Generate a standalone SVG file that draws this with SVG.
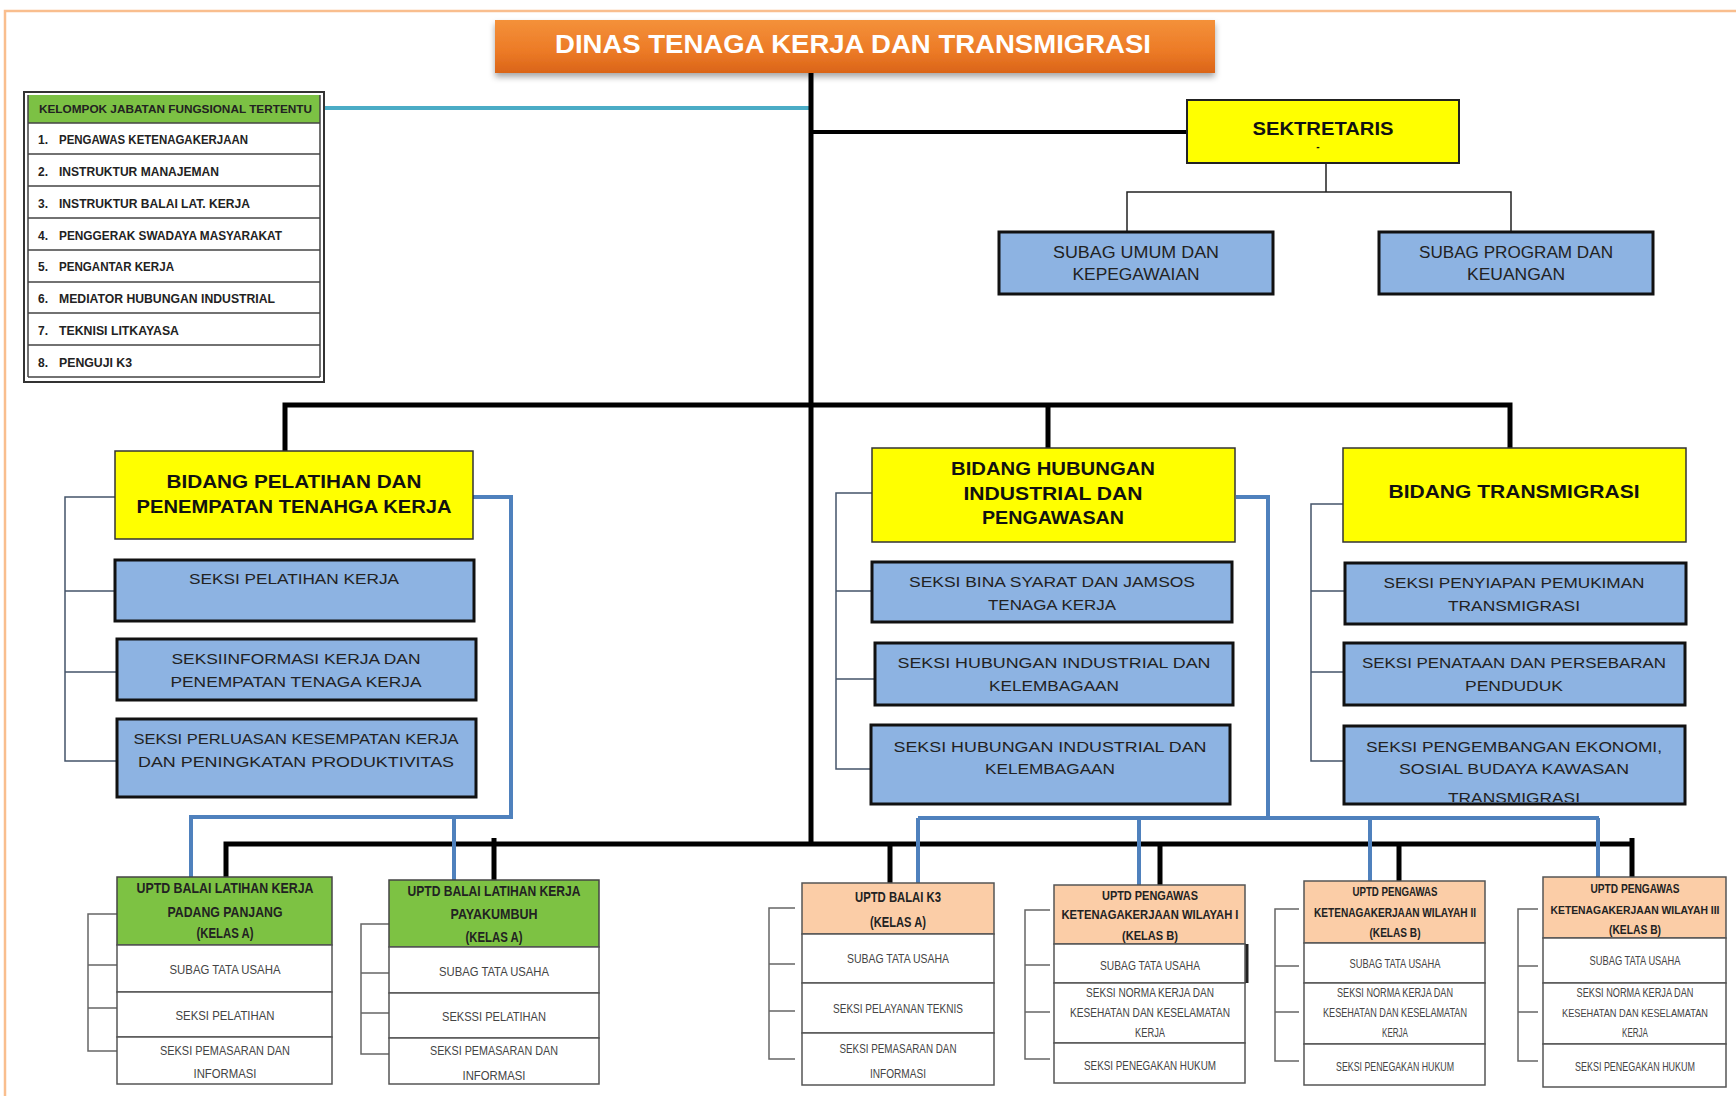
<svg xmlns="http://www.w3.org/2000/svg" width="1736" height="1096" viewBox="0 0 1736 1096">
<defs>
<linearGradient id="og" x1="0" y1="0" x2="0" y2="1">
<stop offset="0" stop-color="#F4913A"/><stop offset="0.6" stop-color="#EC7A26"/><stop offset="1" stop-color="#DA6418"/>
</linearGradient>
<filter id="sh" x="-5%" y="-20%" width="110%" height="160%"><feDropShadow dx="0" dy="4" stdDeviation="3" flood-color="#000" flood-opacity="0.35"/></filter>
<clipPath id="clipT3"><rect x="1346" y="727" width="338" height="75"/></clipPath>
</defs>
<style>
.frame{fill:none;stroke:#F9BE8E;stroke-width:2.5}
.blk{fill:none;stroke:#000;stroke-width:5}
.thin{fill:none;stroke:#222;stroke-width:1.5}
.cyan{fill:none;stroke:#4BACC6;stroke-width:4}
.blue{fill:none;stroke:#4F81BD;stroke-width:4}
.brk{fill:none;stroke:#44546A;stroke-width:1.5}
.brk2{fill:none;stroke:#666;stroke-width:1.5}
.yel{fill:#FFFF00;stroke:#333;stroke-width:1.5}
.sek{fill:#8DB3E2;stroke:#111;stroke-width:3}
.row{fill:#fff;stroke:#555;stroke-width:1.5}
.hA{fill:#7DC243;stroke:#444;stroke-width:1.5}
.hB{fill:#FBCDA7;stroke:#555;stroke-width:1.5}
text{font-family:"Liberation Sans",Arial,sans-serif}
.ttl{font-size:26px;font-weight:bold;fill:#fff}
.bd{font-size:18px;font-weight:bold;fill:#111;text-anchor:middle}
.sx{font-size:15px;fill:#222;text-anchor:middle}
.kl{font-size:12px;font-weight:bold;fill:#222}
.uh{font-size:14px;font-weight:bold;fill:#222;text-anchor:middle}
.ur{font-size:13px;fill:#444;text-anchor:middle}
</style>
<rect width="1736" height="1096" fill="#fff"/>
<path class="frame" d="M5,1096 V11 H1736"/>

<g id="connectors">
<path class="cyan" d="M324,108 H810"/>
<path class="blk" d="M811,62 V842"/>
<path class="blk" d="M811,132 H1187" style="stroke-width:4"/>
<path class="thin" d="M1326,163 V192 M1127,232 V192 H1511 V232"/>
<path class="blk" d="M285,452 V405 H1510 V448 M1048,405 V448"/>
<path class="blk" d="M226,877 V844 H1632 M1632,838 V877 M494,838 V880 M890,844 V883 M1160,844 V885 M1399,844 V881"/>
<path class="blue" d="M473,497 H511 V817 H191 V877 M454,817 V880"/>
<path class="blue" d="M1236,497 H1268 V818 M918,818 H1599 M918,818 V883 M1139,818 V885 M1370,818 V881 M1598,818 V877"/>
<path class="brk" d="M115,497 H65 V761 H117 M65,591 H115 M65,672 H117"/>
<path class="brk" d="M872,493 H836 V769 H871 M836,591 H872 M836,679 H875"/>
<path class="brk" d="M1343,504 H1311 V761 H1344 M1311,591 H1345 M1311,672 H1344"/>
<path class="brk2" d="M117,914 H88 V1051 H117 M88,965 H117 M88,1008 H117"/>
<path class="brk2" d="M389,924 H361 V1054 H389 M361,973 H389 M361,1013 H389"/>
<path class="brk2" d="M795,908 H769 V1059 H795 M769,964 H795 M769,1011 H795"/>
<path class="brk2" d="M1050,910 H1025 V1059 H1050 M1025,965 H1050 M1025,1012 H1050"/>
<path class="brk2" d="M1299,909 H1275 V1061 H1299 M1275,966 H1299 M1275,1012 H1299"/>
<path class="brk2" d="M1538,909 H1518 V1061 H1538 M1518,966 H1538 M1518,1012 H1538"/>
</g>

<g id="title">
<rect x="495" y="20" width="720" height="53" fill="url(#og)" filter="url(#sh)"/>
<text class="ttl" x="555" y="53" textLength="596" lengthAdjust="spacingAndGlyphs">DINAS TENAGA KERJA DAN TRANSMIGRASI</text>
</g>

<g id="kelompok">
<rect x="24" y="92" width="300" height="290" fill="#fff" stroke="#333" stroke-width="2"/>
<rect x="28" y="95" width="292" height="28" fill="#7CC144"/>
<path fill="none" stroke="#444" stroke-width="1.5" d="M28,123 H320 M28,154 H320 M28,186 H320 M28,218 H320 M28,250 H320 M28,282 H320 M28,313 H320 M28,345 H320 M28,377 H320 M28,95 V377 M320,95 V377"/>
<text class="kl" x="39" y="113" textLength="273" lengthAdjust="spacingAndGlyphs" style="font-size:11px">KELOMPOK JABATAN FUNGSIONAL TERTENTU</text>
<text class="kl" y="144"><tspan x="38">1.</tspan><tspan x="59" textLength="189" lengthAdjust="spacingAndGlyphs">PENGAWAS KETENAGAKERJAAN</tspan></text>
<text class="kl" y="176"><tspan x="38">2.</tspan><tspan x="59" textLength="160" lengthAdjust="spacingAndGlyphs">INSTRUKTUR MANAJEMAN</tspan></text>
<text class="kl" y="208"><tspan x="38">3.</tspan><tspan x="59" textLength="191" lengthAdjust="spacingAndGlyphs">INSTRUKTUR BALAI LAT. KERJA</tspan></text>
<text class="kl" y="240"><tspan x="38">4.</tspan><tspan x="59" textLength="223" lengthAdjust="spacingAndGlyphs">PENGGERAK SWADAYA MASYARAKAT</tspan></text>
<text class="kl" y="271"><tspan x="38">5.</tspan><tspan x="59" textLength="115" lengthAdjust="spacingAndGlyphs">PENGANTAR KERJA</tspan></text>
<text class="kl" y="303"><tspan x="38">6.</tspan><tspan x="59" textLength="216" lengthAdjust="spacingAndGlyphs">MEDIATOR HUBUNGAN INDUSTRIAL</tspan></text>
<text class="kl" y="335"><tspan x="38">7.</tspan><tspan x="59" textLength="120" lengthAdjust="spacingAndGlyphs">TEKNISI LITKAYASA</tspan></text>
<text class="kl" y="367"><tspan x="38">8.</tspan><tspan x="59" textLength="73" lengthAdjust="spacingAndGlyphs">PENGUJI K3</tspan></text>
</g>

<g id="sektretaris">
<rect x="1187" y="100" width="272" height="63" fill="#FFFF00" stroke="#222" stroke-width="2"/>
<text class="bd" x="1323" y="135" textLength="141" lengthAdjust="spacingAndGlyphs">SEKTRETARIS</text>
<text class="bd" x="1318" y="150" style="font-size:10px">-</text>
</g>
<g id="subag-umum">
<rect class="sek" x="999" y="232" width="274" height="62"/>
<text class="sx" x="1136" y="258" textLength="166" lengthAdjust="spacingAndGlyphs" style="font-size:16px">SUBAG UMUM DAN</text>
<text class="sx" x="1136" y="280" textLength="127" lengthAdjust="spacingAndGlyphs" style="font-size:16px">KEPEGAWAIAN</text>
</g>
<g id="subag-program">
<rect class="sek" x="1379" y="232" width="274" height="62"/>
<text class="sx" x="1516" y="258" textLength="194" lengthAdjust="spacingAndGlyphs" style="font-size:16px">SUBAG PROGRAM DAN</text>
<text class="sx" x="1516" y="280" textLength="98" lengthAdjust="spacingAndGlyphs" style="font-size:16px">KEUANGAN</text>
</g>

<g id="bidang-pelatihan">
<rect class="yel" x="115" y="451" width="358" height="88"/>
<text class="bd" x="294" y="488" textLength="255" lengthAdjust="spacingAndGlyphs">BIDANG PELATIHAN DAN</text>
<text class="bd" x="294" y="513" textLength="315" lengthAdjust="spacingAndGlyphs">PENEMPATAN TENAHGA KERJA</text>
</g>
<g id="seksi-pelatihan">
<rect class="sek" x="115" y="560" width="359" height="61"/>
<text class="sx" x="294" y="584" textLength="210" lengthAdjust="spacingAndGlyphs">SEKSI PELATIHAN KERJA</text>
</g>
<g id="seksi-informasi">
<rect class="sek" x="117" y="639" width="359" height="61"/>
<text class="sx" x="296" y="664" textLength="249" lengthAdjust="spacingAndGlyphs">SEKSIINFORMASI KERJA DAN</text>
<text class="sx" x="296" y="687" textLength="251" lengthAdjust="spacingAndGlyphs">PENEMPATAN TENAGA KERJA</text>
</g>
<g id="seksi-perluasan">
<rect class="sek" x="117" y="719" width="359" height="78"/>
<text class="sx" x="296" y="744" textLength="325" lengthAdjust="spacingAndGlyphs">SEKSI PERLUASAN KESEMPATAN KERJA</text>
<text class="sx" x="296" y="767" textLength="316" lengthAdjust="spacingAndGlyphs">DAN PENINGKATAN PRODUKTIVITAS</text>
</g>

<g id="bidang-hubungan">
<rect class="yel" x="872" y="448" width="363" height="94"/>
<text class="bd" x="1053" y="475" textLength="204" lengthAdjust="spacingAndGlyphs">BIDANG HUBUNGAN</text>
<text class="bd" x="1053" y="500" textLength="179" lengthAdjust="spacingAndGlyphs">INDUSTRIAL DAN</text>
<text class="bd" x="1053" y="524" textLength="142" lengthAdjust="spacingAndGlyphs">PENGAWASAN</text>
</g>
<g id="seksi-bina">
<rect class="sek" x="872" y="562" width="360" height="60"/>
<text class="sx" x="1052" y="587" textLength="286" lengthAdjust="spacingAndGlyphs">SEKSI BINA SYARAT DAN JAMSOS</text>
<text class="sx" x="1052" y="610" textLength="128" lengthAdjust="spacingAndGlyphs">TENAGA KERJA</text>
</g>
<g id="seksi-hubungan-1">
<rect class="sek" x="875" y="643" width="358" height="62"/>
<text class="sx" x="1054" y="668" textLength="313" lengthAdjust="spacingAndGlyphs">SEKSI HUBUNGAN INDUSTRIAL DAN</text>
<text class="sx" x="1054" y="691" textLength="130" lengthAdjust="spacingAndGlyphs">KELEMBAGAAN</text>
</g>
<g id="seksi-hubungan-2">
<rect class="sek" x="871" y="725" width="359" height="79"/>
<text class="sx" x="1050" y="752" textLength="313" lengthAdjust="spacingAndGlyphs">SEKSI HUBUNGAN INDUSTRIAL DAN</text>
<text class="sx" x="1050" y="774" textLength="130" lengthAdjust="spacingAndGlyphs">KELEMBAGAAN</text>
</g>

<g id="bidang-transmigrasi">
<rect class="yel" x="1343" y="448" width="343" height="94"/>
<text class="bd" x="1514" y="498" textLength="251" lengthAdjust="spacingAndGlyphs">BIDANG TRANSMIGRASI</text>
</g>
<g id="seksi-penyiapan">
<rect class="sek" x="1345" y="563" width="341" height="61"/>
<text class="sx" x="1514" y="588" textLength="261" lengthAdjust="spacingAndGlyphs">SEKSI PENYIAPAN PEMUKIMAN</text>
<text class="sx" x="1514" y="611" textLength="132" lengthAdjust="spacingAndGlyphs">TRANSMIGRASI</text>
</g>
<g id="seksi-penataan">
<rect class="sek" x="1344" y="643" width="341" height="62"/>
<text class="sx" x="1514" y="668" textLength="304" lengthAdjust="spacingAndGlyphs">SEKSI PENATAAN DAN PERSEBARAN</text>
<text class="sx" x="1514" y="691" textLength="98" lengthAdjust="spacingAndGlyphs">PENDUDUK</text>
</g>
<g id="seksi-pengembangan">
<rect class="sek" x="1344" y="726" width="341" height="78"/>
<g clip-path="url(#clipT3)">
<text class="sx" x="1514" y="752" textLength="296" lengthAdjust="spacingAndGlyphs">SEKSI PENGEMBANGAN EKONOMI,</text>
<text class="sx" x="1514" y="774" textLength="230" lengthAdjust="spacingAndGlyphs">SOSIAL BUDAYA KAWASAN</text>
<text class="sx" x="1514" y="803" textLength="132" lengthAdjust="spacingAndGlyphs">TRANSMIGRASI</text>
</g>
</g>

<g id="uptd-padang-panjang">
<rect class="hA" x="117" y="877" width="215" height="68"/>
<rect class="row" x="117" y="945" width="215" height="47"/>
<rect class="row" x="117" y="992" width="215" height="45"/>
<rect class="row" x="117" y="1037" width="215" height="47"/>
<text class="uh" x="225" y="893" textLength="177" lengthAdjust="spacingAndGlyphs">UPTD BALAI LATIHAN KERJA</text>
<text class="uh" x="225" y="917" textLength="115" lengthAdjust="spacingAndGlyphs">PADANG PANJANG</text>
<text class="uh" x="225" y="938" textLength="57" lengthAdjust="spacingAndGlyphs">(KELAS A)</text>
<text class="ur" x="225" y="974" textLength="111" lengthAdjust="spacingAndGlyphs">SUBAG TATA USAHA</text>
<text class="ur" x="225" y="1020" textLength="99" lengthAdjust="spacingAndGlyphs">SEKSI PELATIHAN</text>
<text class="ur" x="225" y="1055" textLength="130" lengthAdjust="spacingAndGlyphs">SEKSI PEMASARAN DAN</text>
<text class="ur" x="225" y="1078" textLength="63" lengthAdjust="spacingAndGlyphs">INFORMASI</text>
</g>

<g id="uptd-payakumbuh">
<rect class="hA" x="389" y="880" width="210" height="67"/>
<rect class="row" x="389" y="947" width="210" height="46"/>
<rect class="row" x="389" y="993" width="210" height="45"/>
<rect class="row" x="389" y="1038" width="210" height="46"/>
<text class="uh" x="494" y="896" textLength="173" lengthAdjust="spacingAndGlyphs">UPTD BALAI LATIHAN KERJA</text>
<text class="uh" x="494" y="919" textLength="87" lengthAdjust="spacingAndGlyphs">PAYAKUMBUH</text>
<text class="uh" x="494" y="942" textLength="57" lengthAdjust="spacingAndGlyphs">(KELAS A)</text>
<text class="ur" x="494" y="976" textLength="110" lengthAdjust="spacingAndGlyphs">SUBAG TATA USAHA</text>
<text class="ur" x="494" y="1021" textLength="104" lengthAdjust="spacingAndGlyphs">SEKSSI PELATIHAN</text>
<text class="ur" x="494" y="1055" textLength="128" lengthAdjust="spacingAndGlyphs">SEKSI PEMASARAN DAN</text>
<text class="ur" x="494" y="1080" textLength="63" lengthAdjust="spacingAndGlyphs">INFORMASI</text>
</g>

<g id="uptd-balai-k3">
<rect class="hB" x="802" y="883" width="192" height="51"/>
<rect class="row" x="802" y="934" width="192" height="49"/>
<rect class="row" x="802" y="983" width="192" height="50"/>
<rect class="row" x="802" y="1033" width="192" height="52"/>
<text class="uh" x="898" y="902" textLength="86" lengthAdjust="spacingAndGlyphs">UPTD BALAI K3</text>
<text class="uh" x="898" y="927" textLength="56" lengthAdjust="spacingAndGlyphs">(KELAS A)</text>
<text class="ur" x="898" y="963" textLength="102" lengthAdjust="spacingAndGlyphs">SUBAG TATA USAHA</text>
<text class="ur" x="898" y="1013" textLength="130" lengthAdjust="spacingAndGlyphs">SEKSI PELAYANAN TEKNIS</text>
<text class="ur" x="898" y="1053" textLength="117" lengthAdjust="spacingAndGlyphs">SEKSI PEMASARAN DAN</text>
<text class="ur" x="898" y="1078" textLength="56" lengthAdjust="spacingAndGlyphs">INFORMASI</text>
</g>

<g id="uptd-pengawas-1">
<rect class="hB" x="1054" y="885" width="191" height="59"/>
<rect class="row" x="1054" y="944" width="191" height="39"/>
<rect class="row" x="1054" y="983" width="191" height="60"/>
<rect class="row" x="1054" y="1043" width="191" height="40"/>
<path d="M1247,944 V983" stroke="#222" stroke-width="3"/>
<text class="uh" x="1150" y="900" textLength="96" lengthAdjust="spacingAndGlyphs" style="font-size:13px">UPTD PENGAWAS</text>
<text class="uh" x="1150" y="919" textLength="177" lengthAdjust="spacingAndGlyphs" style="font-size:13px">KETENAGAKERJAAN  WILAYAH I</text>
<text class="uh" x="1150" y="940" textLength="56" lengthAdjust="spacingAndGlyphs" style="font-size:13px">(KELAS B)</text>
<text class="ur" x="1150" y="970" textLength="100" lengthAdjust="spacingAndGlyphs" style="font-size:12px">SUBAG TATA USAHA</text>
<text class="ur" x="1150" y="997" textLength="128" lengthAdjust="spacingAndGlyphs" style="font-size:12px">SEKSI NORMA KERJA DAN</text>
<text class="ur" x="1150" y="1017" textLength="160" lengthAdjust="spacingAndGlyphs" style="font-size:12px">KESEHATAN DAN KESELAMATAN</text>
<text class="ur" x="1150" y="1037" textLength="30" lengthAdjust="spacingAndGlyphs" style="font-size:12px">KERJA</text>
<text class="ur" x="1150" y="1070" textLength="132" lengthAdjust="spacingAndGlyphs" style="font-size:12px">SEKSI PENEGAKAN HUKUM</text>
</g>

<g id="uptd-pengawas-2">
<rect class="hB" x="1304" y="881" width="181" height="62"/>
<rect class="row" x="1304" y="943" width="181" height="40"/>
<rect class="row" x="1304" y="983" width="181" height="61"/>
<rect class="row" x="1304" y="1044" width="181" height="41"/>
<text class="uh" x="1395" y="896" textLength="85" lengthAdjust="spacingAndGlyphs" style="font-size:13px">UPTD PENGAWAS</text>
<text class="uh" x="1395" y="917" textLength="162" lengthAdjust="spacingAndGlyphs" style="font-size:13px">KETENAGAKERJAAN  WILAYAH II</text>
<text class="uh" x="1395" y="937" textLength="51" lengthAdjust="spacingAndGlyphs" style="font-size:13px">(KELAS B)</text>
<text class="ur" x="1395" y="968" textLength="91" lengthAdjust="spacingAndGlyphs" style="font-size:12px">SUBAG TATA USAHA</text>
<text class="ur" x="1395" y="997" textLength="116" lengthAdjust="spacingAndGlyphs" style="font-size:12px">SEKSI NORMA KERJA DAN</text>
<text class="ur" x="1395" y="1017" textLength="144" lengthAdjust="spacingAndGlyphs" style="font-size:12px">KESEHATAN DAN KESELAMATAN</text>
<text class="ur" x="1395" y="1037" textLength="26" lengthAdjust="spacingAndGlyphs" style="font-size:12px">KERJA</text>
<text class="ur" x="1395" y="1071" textLength="118" lengthAdjust="spacingAndGlyphs" style="font-size:12px">SEKSI PENEGAKAN HUKUM</text>
</g>

<g id="uptd-pengawas-3">
<rect class="hB" x="1543" y="877" width="183" height="61"/>
<rect class="row" x="1543" y="938" width="183" height="45"/>
<rect class="row" x="1543" y="983" width="183" height="61"/>
<rect class="row" x="1543" y="1044" width="183" height="43"/>
<text class="uh" x="1635" y="893" textLength="89" lengthAdjust="spacingAndGlyphs" style="font-size:12px">UPTD PENGAWAS</text>
<text class="uh" x="1635" y="914" textLength="169" lengthAdjust="spacingAndGlyphs" style="font-size:11px">KETENAGAKERJAAN  WILAYAH III</text>
<text class="uh" x="1635" y="934" textLength="52" lengthAdjust="spacingAndGlyphs" style="font-size:12px">(KELAS B)</text>
<text class="ur" x="1635" y="965" textLength="91" lengthAdjust="spacingAndGlyphs" style="font-size:12px">SUBAG TATA USAHA</text>
<text class="ur" x="1635" y="997" textLength="117" lengthAdjust="spacingAndGlyphs" style="font-size:12px">SEKSI NORMA KERJA DAN</text>
<text class="ur" x="1635" y="1017" textLength="146" lengthAdjust="spacingAndGlyphs" style="font-size:11px">KESEHATAN DAN KESELAMATAN</text>
<text class="ur" x="1635" y="1037" textLength="26" lengthAdjust="spacingAndGlyphs" style="font-size:12px">KERJA</text>
<text class="ur" x="1635" y="1071" textLength="120" lengthAdjust="spacingAndGlyphs" style="font-size:12px">SEKSI PENEGAKAN HUKUM</text>
</g>
</svg>
